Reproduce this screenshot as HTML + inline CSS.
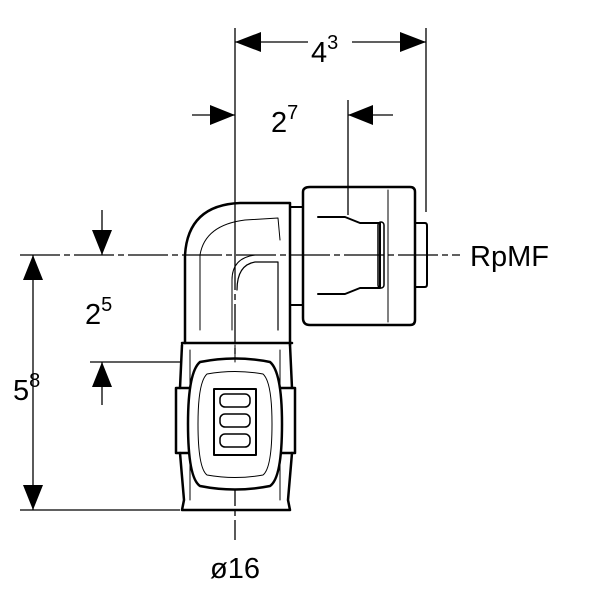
<!DOCTYPE html>
<html><head><style>
html,body{margin:0;padding:0;background:#fff;}
svg{display:block;}
text{font-family:"Liberation Sans",Arial,sans-serif;fill:#000;}
</style></head><body>
<svg width="600" height="600" viewBox="0 0 600 600" xmlns="http://www.w3.org/2000/svg">
<g stroke="#000" stroke-width="1.3" fill="none">
  <line x1="235" y1="28" x2="235" y2="250"/>
  <line x1="426" y1="28" x2="426" y2="212"/>
  <line x1="348" y1="100" x2="348" y2="215"/>
  <line x1="20" y1="255" x2="460" y2="255" stroke-dasharray="40,4,6,4"/>
  <line x1="235" y1="250" x2="235" y2="540" stroke-dasharray="40,4,6,4"/>
  <line x1="20" y1="510" x2="180" y2="510"/>
  <line x1="90" y1="362" x2="182" y2="362"/>
  <line x1="235" y1="42" x2="308" y2="42"/>
  <line x1="352" y1="42" x2="426" y2="42"/>
  <line x1="192" y1="115" x2="235" y2="115"/>
  <line x1="348" y1="115" x2="393" y2="115"/>
  <line x1="33" y1="255" x2="33" y2="510"/>
  <line x1="102" y1="210" x2="102" y2="255"/>
  <line x1="102" y1="362" x2="102" y2="405"/>
</g>
<g fill="#000">
  <polygon points="235,42 261,32 261,52"/>
  <polygon points="426,42 400,32 400,52"/>
  <polygon points="235,115 210,105 210,125"/>
  <polygon points="348,115 373,105 373,125"/>
  <polygon points="33,255 23,280 43,280"/>
  <polygon points="33,510 23,485 43,485"/>
  <polygon points="102,255 92,230 112,230"/>
  <polygon points="102,362 92,387 112,387"/>
</g>
<text x="311" y="62" font-size="29">4<tspan font-size="20" dy="-13">3</tspan></text>
<text x="271" y="132" font-size="29">2<tspan font-size="20" dy="-13">7</tspan></text>
<text x="85" y="324" font-size="29">2<tspan font-size="20" dy="-13">5</tspan></text>
<text x="13" y="400" font-size="29">5<tspan font-size="20" dy="-13">8</tspan></text>
<text x="470" y="266" font-size="29">RpMF</text>
<text x="235" y="578" font-size="29" text-anchor="middle">ø16</text>
<g stroke="#000" fill="none" stroke-linecap="round" stroke-linejoin="round">
  <path d="M185,343 L185,255 Q188,205 240,203 L290,203 L290,345" stroke-width="2.5"/>
  <line x1="182" y1="343" x2="292" y2="343" stroke-width="2.5"/>
  <path d="M200,330 L200,255 Q205,225 245,220 L278,218 L280,240" stroke-width="1"/>
  <path d="M278,330 L278,262 L255,262 Q237,265 237,290" stroke-width="1.2"/>
  <path d="M232,330 L232,280 Q232,258 255,255 L275,255" stroke-width="1"/>
  <rect x="290" y="207" width="13" height="98" stroke-width="2"/>
  <path d="M303,192 Q303,187 310,187 L410,187 Q415,187 415,192 L415,320 Q415,325 410,325 L310,325 Q303,325 303,318 Z" stroke-width="2.5"/>
  <line x1="388" y1="190" x2="388" y2="322" stroke-width="1"/>
  <path d="M318,217 L345,217 L360,223 L380,223 L380,288 L360,288 L345,294 L318,294" stroke-width="2"/>
  <rect x="378" y="222" width="6" height="66" rx="3" stroke-width="1.5"/>
  <path d="M415,223 L425,223 Q427,223 427,226 L427,284 Q427,287 425,287 L415,287" stroke-width="2"/>
  <path d="M182,345 L180,388 M290,345 L292,388 M180,453 L184,500 L182,510 L290,510 L288,500 L292,453" stroke-width="2.5"/>
  <rect x="176" y="388" width="119" height="65" stroke-width="2.5"/>
  <path d="M190,350 L190,388 M280,350 L280,388 M190,453 L190,500 M280,453 L280,500" stroke-width="1"/>
  <path d="M200,362 Q235,355 270,362 Q282,372 282,424 Q282,478 270,486 Q235,493 200,486 Q188,478 188,424 Q188,372 200,362 Z" stroke-width="2.5" fill="#fff"/>
  <path d="M207,374 Q235,369 263,374 Q272,382 272,424 Q272,468 263,475 Q235,480 207,475 Q198,468 198,424 Q198,382 207,374 Z" stroke-width="1"/>
  <rect x="214" y="389" width="42" height="66" stroke-width="2"/>
  <rect x="220" y="394" width="30" height="13" rx="5" stroke-width="1.5"/>
  <rect x="220" y="414" width="30" height="13" rx="5" stroke-width="1.5"/>
  <rect x="220" y="434" width="30" height="13" rx="5" stroke-width="1.5"/>
  <line x1="235" y1="345" x2="235" y2="362" stroke-width="1"/>
</g>
</svg>
</body></html>
